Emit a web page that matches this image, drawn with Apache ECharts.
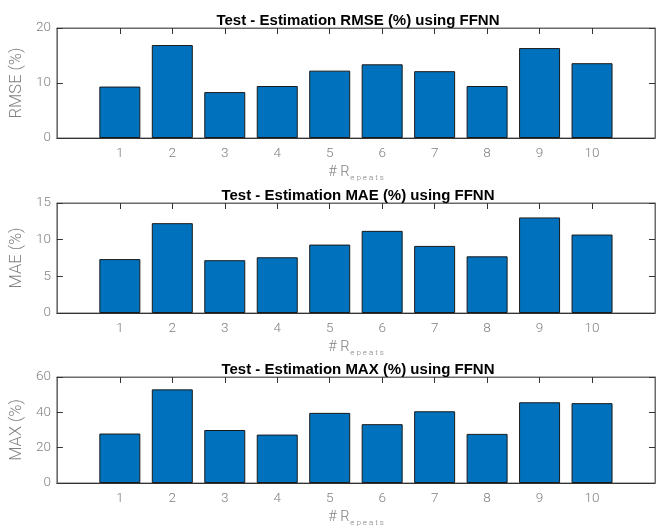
<!DOCTYPE html>
<html>
<head>
<meta charset="utf-8">
<script src="https://cdn.jsdelivr.net/npm/echarts@6/dist/echarts.min.js"></script>
<style>
html,body{margin:0;padding:0;background:#fff;}
#chart{width:664px;height:528px;}
</style>
</head>
<body>
<div id="chart"></div>
<script>
const categories = [1, 2, 3, 4, 5, 6, 7, 8, 9, 10];
const rmseValues = [9.35, 16.9, 8.35, 9.45, 12.25, 13.4, 12.15, 9.45, 16.35, 13.6];
const maeValues = [7.35, 12.25, 7.2, 7.6, 9.33, 11.2, 9.15, 7.73, 13.03, 10.7];
const maxValues = [28.0, 53.0, 30.0, 27.4, 39.7, 33.3, 40.6, 27.8, 45.7, 45.2];
const titles = ['Test - Estimation RMSE (%) using FFNN', 'Test - Estimation MAE (%) using FFNN', 'Test - Estimation MAX (%) using FFNN'];
const yNames = ['RMSE (%)', 'MAE (%)', 'MAX (%)'];
const yMax = [20, 15, 60];
const yInterval = [10, 5, 20];
const xName = '{h|# R}{s|e p e a t s}';

const panels = [rmseValues, maeValues, maxValues];
const gridTops = [28, 203, 377];
const gridHeight = 110;
const labelColor = '#808080';
const lineColor = '#333333';
const fontFam = 'Roboto';

const grids = [], xAxes = [], yAxes = [], series = [], titleArr = [];
panels.forEach((vals, i) => {
  grids.push({left: 55, right: 9, top: gridTops[i], height: gridHeight, show: true, borderColor: '#6a6a6a', borderWidth: 1, containLabel: false});
  titleArr.push({
    text: titles[i], left: 353, top: gridTops[i] - 20, textAlign: 'center',
    textStyle: {fontFamily: 'Liberation Sans', fontWeight: 'bold', fontSize: 15, color: '#000'}
  });
  const xBase = {
    type: 'value', gridIndex: i, min: -0.2, max: 11.2,
    splitLine: {show: false},
    axisLine: {show: true, onZero: false, lineStyle: {color: lineColor, width: 1}},
    axisTick: {show: true, inside: true, length: 6, customValues: categories, lineStyle: {color: lineColor}}
  };
  xAxes.push(Object.assign({}, xBase, {
    position: 'bottom',
    axisLabel: {show: true, customValues: categories, color: labelColor, fontSize: 13.5, fontFamily: fontFam, fontWeight: 300, margin: 9},
    name: xName, nameLocation: 'middle', nameGap: 27,
    nameTextStyle: {
      color: labelColor, fontFamily: fontFam, fontWeight: 300,
      rich: {
        h: {fontSize: 14.5, color: labelColor, fontFamily: fontFam, fontWeight: 300, verticalAlign: 'bottom'},
        s: {fontSize: 8, color: labelColor, fontFamily: fontFam, fontWeight: 300, verticalAlign: 'bottom', padding: [0, 0, -2, 1]}
      }
    }
  }));
  xAxes.push(Object.assign({}, xBase, {
    position: 'top',
    axisLine: {show: true, onZero: false, lineStyle: {color: '#6a6a6a', width: 1}},
    axisLabel: {show: false}
  }));
  const yBase = {
    type: 'value', gridIndex: i, min: 0, max: yMax[i], interval: yInterval[i],
    splitLine: {show: false},
    axisLine: {show: true, onZero: false, lineStyle: {color: '#6a6a6a', width: 1}},
    axisTick: {show: true, inside: true, length: 6, lineStyle: {color: lineColor}}
  };
  yAxes.push(Object.assign({}, yBase, {
    position: 'left',
    axisLabel: {show: true, color: labelColor, fontSize: 13.5, fontFamily: fontFam, fontWeight: 300, margin: 6},
    name: yNames[i], nameLocation: 'middle', nameGap: 23,
    nameTextStyle: {color: labelColor, fontSize: 16.5, fontFamily: fontFam, fontWeight: 300}
  }));
  yAxes.push(Object.assign({}, yBase, {
    position: 'right',
    axisLabel: {show: false}
  }));
  series.push({
    type: 'bar', xAxisIndex: i * 2, yAxisIndex: i * 2,
    data: categories.map((c, j) => [c, vals[j]]),
    barWidth: 41,
    itemStyle: {color: '#0072BD', borderColor: '#1a1a1a', borderWidth: 1},
    silent: true
  });
});

const chart = echarts.init(document.getElementById('chart'), null, {renderer: 'canvas'});
chart.setOption({
  animation: false,
  backgroundColor: '#ffffff',
  title: titleArr,
  grid: grids,
  xAxis: xAxes,
  yAxis: yAxes,
  series: series
});
</script>
</body>
</html>
